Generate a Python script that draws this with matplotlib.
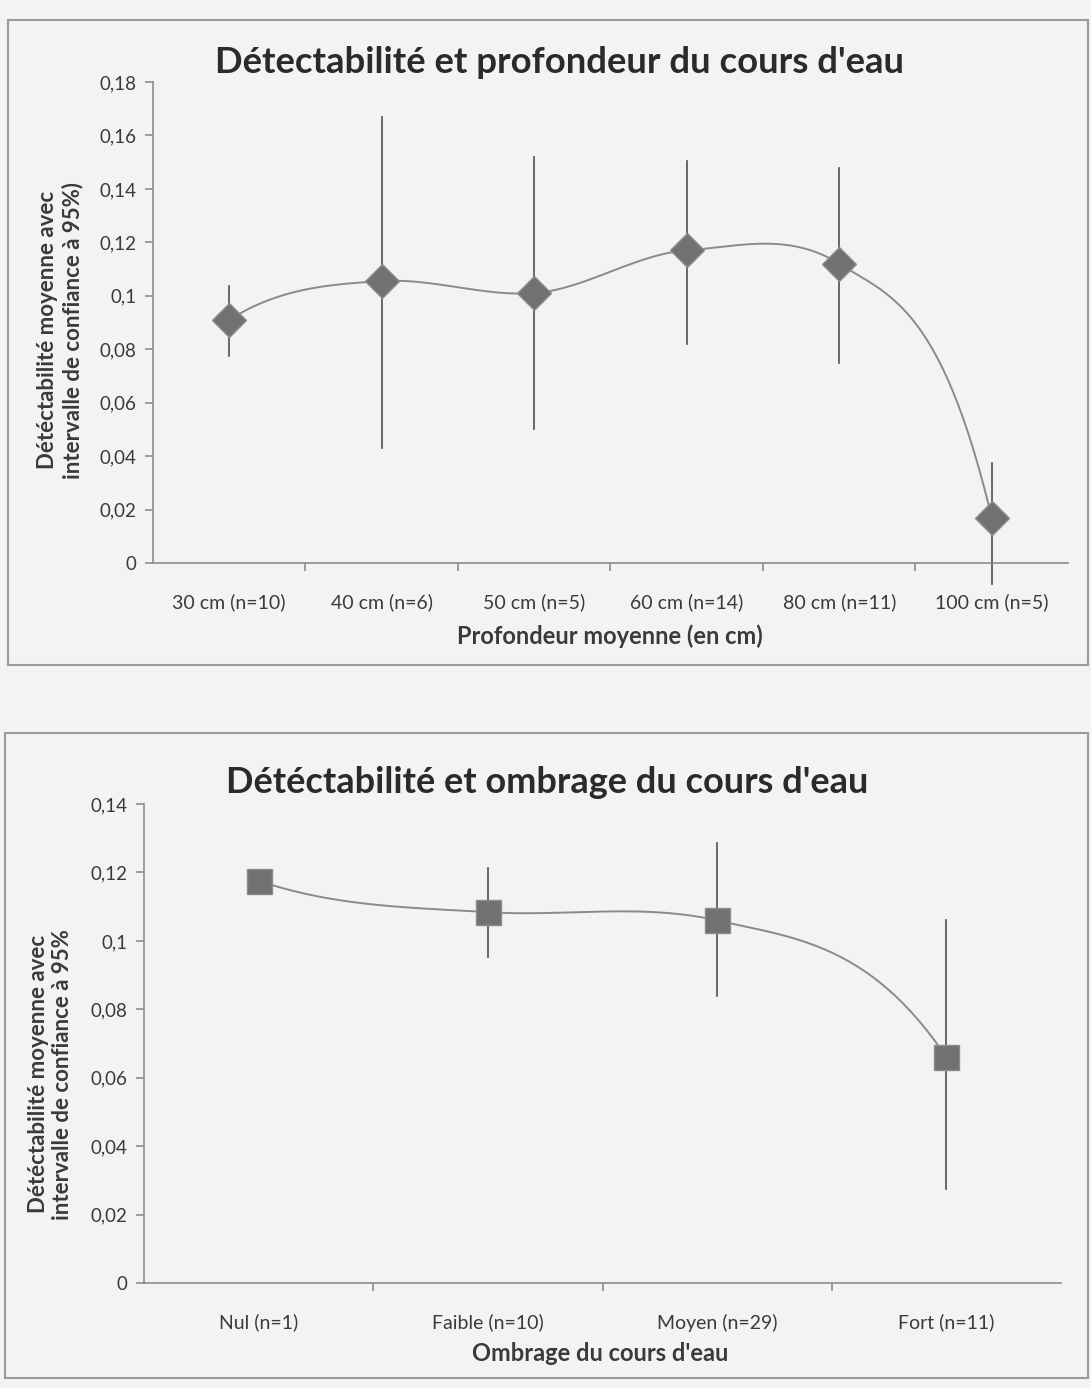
import numpy as np
import matplotlib
matplotlib.use('Agg')
import matplotlib.pyplot as plt
from matplotlib.patches import Rectangle

plt.rcParams['font.family'] = ['Lato', 'DejaVu Sans']

depth_labels = ['30 cm (n=10)', '40 cm (n=6)', '50 cm (n=5)', '60 cm (n=14)', '80 cm (n=11)', '100 cm (n=5)']
depth_mean = [0.091, 0.1055, 0.101, 0.117, 0.112, 0.017]
depth_low = [0.0775, 0.043, 0.050, 0.082, 0.075, -0.008]
depth_high = [0.1035, 0.167, 0.152, 0.1505, 0.148, 0.0375]
depth_yticks = [0, 0.02, 0.04, 0.06, 0.08, 0.1, 0.12, 0.14, 0.16, 0.18]
depth_yticklabels = ['0', '0,02', '0,04', '0,06', '0,08', '0,1', '0,12', '0,14', '0,16', '0,18']

shade_labels = ['Nul (n=1)', 'Faible (n=10)', 'Moyen (n=29)', 'Fort (n=11)']
shade_mean = [0.1176, 0.1084, 0.106, 0.066]
shade_low = [np.nan, 0.0952, 0.084, 0.0274]
shade_high = [np.nan, 0.1214, 0.1287, 0.106]
shade_yticks = [0, 0.02, 0.04, 0.06, 0.08, 0.1, 0.12, 0.14]
shade_yticklabels = ['0', '0,02', '0,04', '0,06', '0,08', '0,1', '0,12', '0,14']

BG = '#f3f3f1'
AX = '#8c8c8c'
TXT = '#3a3a3a'


def smooth(x, y, n=60, inner=0.72, end=2.5):
    """Excel-like smoothed line through the data points (cubic Hermite)."""
    x = np.asarray(x, float)
    y = np.asarray(y, float)
    m = len(x)
    tan = np.zeros(m)
    for i in range(1, m - 1):
        tan[i] = inner * (y[i + 1] - y[i - 1]) / (x[i + 1] - x[i - 1])
    tan[0] = end * (y[1] - y[0]) / (x[1] - x[0])
    tan[-1] = end * (y[-1] - y[-2]) / (x[-1] - x[-2])
    xs, ys = [], []
    t = np.linspace(0, 1, n)
    for i in range(m - 1):
        h = x[i + 1] - x[i]
        h00 = 2 * t ** 3 - 3 * t ** 2 + 1
        h10 = t ** 3 - 2 * t ** 2 + t
        h01 = -2 * t ** 3 + 3 * t ** 2
        h11 = t ** 3 - t ** 2
        xs.append(x[i] + t * h)
        ys.append(h00 * y[i] + h10 * h * tan[i] + h01 * y[i + 1] + h11 * h * tan[i + 1])
    return np.concatenate(xs), np.concatenate(ys)


fig = plt.figure(figsize=(10.91, 13.88), dpi=100, facecolor=BG)

# frames
fig.patches.append(Rectangle((0.0073, 0.5209), 0.9897, 0.4647, transform=fig.transFigure,
                             fill=False, edgecolor='#9a9a9a', linewidth=1.5))
fig.patches.append(Rectangle((0.0046, 0.0072), 0.9924, 0.4647, transform=fig.transFigure,
                             fill=False, edgecolor='#9a9a9a', linewidth=1.5))


def style_axes(ax, labels, yticks, yticklabels, ymax):
    ax.set_facecolor('none')
    n = len(labels)
    ax.set_xlim(-0.5, n - 0.5)
    ax.set_ylim(0, ymax)
    for s in ['top', 'right']:
        ax.spines[s].set_visible(False)
    for s in ['left', 'bottom']:
        ax.spines[s].set_color(AX)
        ax.spines[s].set_linewidth(1.2)
    ax.set_yticks(yticks)
    ax.set_yticklabels(yticklabels)
    ax.set_xticks(np.arange(n))
    ax.set_xticklabels(labels)
    ax.set_xticks(np.arange(n - 1) + 0.5, minor=True)
    ax.tick_params(axis='x', which='major', length=0, pad=22, labelsize=14, colors=TXT)
    ax.tick_params(axis='x', which='minor', length=6, color=AX, width=1.2)
    ax.tick_params(axis='y', length=6, color=AX, width=1.2, labelsize=13.5, colors=TXT, pad=6)


# ---- Top chart ----
ax1 = fig.add_axes([0.1402, 0.5944, 0.8387, 0.3465])
style_axes(ax1, depth_labels, depth_yticks, depth_yticklabels, 0.18)
x1 = np.arange(len(depth_labels))
for xi, lo, hi in zip(x1, depth_low, depth_high):
    ax1.plot([xi, xi], [lo, hi], color='#505050', linewidth=1.2, clip_on=False, zorder=2)
sx, sy = smooth(x1, depth_mean)
ax1.plot(sx, sy, color='#8a8a8a', linewidth=1.4, zorder=3)
ax1.plot(x1, depth_mean, linestyle='none', marker='D', markersize=17,
         markerfacecolor='#717171', markeredgecolor='#8c8c8c', markeredgewidth=1, zorder=4)
fig.text(0.513, 0.9553, "Détectabilité et profondeur du cours d'eau", ha='center', va='center',
         fontsize=26.3, fontweight='bold', color='#2a2a2a')
fig.text(0.559, 0.5418, 'Profondeur moyenne (en cm)', ha='center', va='center',
         fontsize=17, fontweight='bold', color=TXT)
fig.text(0.0555, 0.762, 'Détéctabilité moyenne avec\nintervalle de confiance à 95%)', ha='center', va='center',
         rotation=90, fontsize=16, fontweight='bold', color=TXT, linespacing=1.2)

# ---- Bottom chart ----
ax2 = fig.add_axes([0.132, 0.0756, 0.8405, 0.3451])
style_axes(ax2, shade_labels, shade_yticks, shade_yticklabels, 0.14)
x2 = np.arange(len(shade_labels))
for xi, lo, hi in zip(x2, shade_low, shade_high):
    if not np.isnan(lo):
        ax2.plot([xi, xi], [lo, hi], color='#505050', linewidth=1.2, clip_on=False, zorder=2)
sx, sy = smooth(x2, shade_mean)
ax2.plot(sx, sy, color='#8a8a8a', linewidth=1.4, zorder=3)
ax2.plot(x2, shade_mean, linestyle='none', marker='s', markersize=18,
         markerfacecolor='#717171', markeredgecolor='#8c8c8c', markeredgewidth=1, zorder=4)
fig.text(0.502, 0.4359, "Détéctabilité et ombrage du cours d'eau", ha='center', va='center',
         fontsize=26, fontweight='bold', color='#2a2a2a')
fig.text(0.55, 0.0245, "Ombrage du cours d'eau", ha='center', va='center',
         fontsize=17, fontweight='bold', color=TXT)
fig.text(0.0465, 0.226, 'Détéctabilité moyenne avec\nintervalle de confiance à 95%', ha='center', va='center',
         rotation=90, fontsize=16, fontweight='bold', color=TXT, linespacing=1.2)

fig.savefig('out.png', dpi=100, facecolor=BG)
